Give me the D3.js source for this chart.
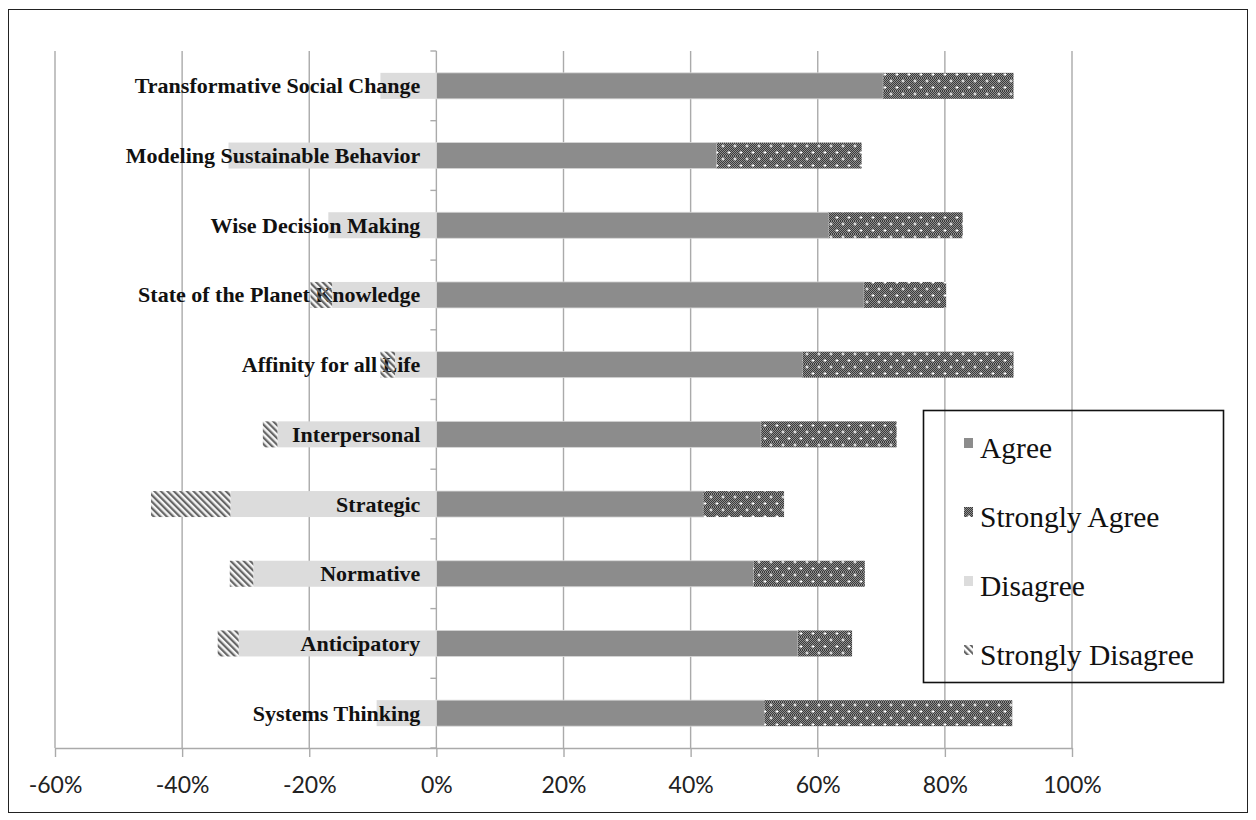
<!DOCTYPE html>
<html>
<head>
<meta charset="utf-8">
<script src="https://cdn.jsdelivr.net/npm/d3@7"></script>
<style>
  html, body { margin: 0; padding: 0; background: #fff; }
  svg { display: block; }
</style>
</head>
<body>
<svg id="chart" width="1256" height="820"></svg>
<script>
// ---- data (percent) ----
const categories = [
  "Transformative Social Change",
  "Modeling Sustainable Behavior",
  "Wise Decision Making",
  "State of the Planet Knowledge",
  "Affinity for all Life",
  "Interpersonal",
  "Strategic",
  "Normative",
  "Anticipatory",
  "Systems Thinking"
];
const agree          = [70.3, 44.1, 61.7, 67.3, 57.6, 51.1, 42.0, 49.9, 56.9, 51.6];
const stronglyAgree  = [20.5, 22.8, 21.1, 12.9, 33.2, 21.3, 12.7, 17.5,  8.5, 39.0];
const disagree       = [ 8.8, 32.7, 17.0, 16.4,  6.5, 25.0, 32.4, 28.8, 31.1,  9.4];
const stronglyDisagree = [0, 0, 0, 3.4, 2.3, 2.3, 12.5, 3.7, 3.3, 0];
const tickValues = [-60, -40, -20, 0, 20, 40, 60, 80, 100];
const tickLabels = ["-60%", "-40%", "-20%", "0%", "20%", "40%", "60%", "80%", "100%"];
const legendLabels = ["Agree", "Strongly Agree", "Disagree", "Strongly Disagree"];

// ---- layout ----
const svg = d3.select("#chart");
const W = 1256, H = 820;
const plot = { left: 55, right: 1072, top: 51, bottom: 748 };

const x = d3.scaleLinear().domain([-60, 100]).range([plot.left, plot.right]);
const y = d3.scaleBand().domain(categories).range([plot.top, plot.bottom])
  .paddingInner(0.627).paddingOuter(0.3135);

// ---- patterns ----
const defs = svg.append("defs");
// Strongly agree: dark checker with white dots
const pSA = defs.append("pattern").attr("id", "pSA").attr("patternUnits", "userSpaceOnUse")
  .attr("width", 12).attr("height", 13);
pSA.append("rect").attr("width", 12).attr("height", 13).attr("fill", "#8e8e8e");
for (let i = 0; i < 12; i++) {
  for (let j = 0; j < 13; j++) {
    if ((i + j) % 2 === 0) pSA.append("rect").attr("x", i).attr("y", j).attr("width", 1).attr("height", 1).attr("fill", "#3a3a3a");
  }
}
[[3, 3], [9, 9.5]].forEach(([cx, cy]) => {
  pSA.append("rect").attr("x", cx - 1.5).attr("y", cy - 0.5).attr("width", 3).attr("height", 1).attr("fill", "#fff");
  pSA.append("rect").attr("x", cx - 0.5).attr("y", cy - 1.5).attr("width", 1).attr("height", 3).attr("fill", "#fff");
});
// Strongly disagree: diagonal "\" stripes, transparent background
const pSD = defs.append("pattern").attr("id", "pSD").attr("patternUnits", "userSpaceOnUse")
  .attr("width", 4.6).attr("height", 10).attr("patternTransform", "rotate(-45)");
pSD.append("rect").attr("x", 0).attr("y", 0).attr("width", 2.2).attr("height", 10).attr("fill", "#666");

// ---- outer border ----
svg.append("rect").attr("x", 8.5).attr("y", 9.5).attr("width", W - 17).attr("height", H - 17)
  .attr("fill", "none").attr("stroke", "#222").attr("stroke-width", 1);

// ---- gridlines ----
svg.append("g").selectAll("line").data(tickValues).join("line")
  .attr("x1", d => x(d)).attr("x2", d => x(d))
  .attr("y1", plot.top).attr("y2", plot.bottom)
  .attr("stroke", "#aaaaaa").attr("stroke-width", 1.4);

// ---- bars ----
const bars = svg.append("g");
// Agree
bars.selectAll(".ag").data(categories).join("rect")
  .attr("x", x(0)).attr("y", d => y(d))
  .attr("width", (d, i) => x(agree[i]) - x(0)).attr("height", y.bandwidth())
  .attr("fill", "#8c8c8c").attr("stroke", "#d6d6d6").attr("stroke-width", 0.8);
// Strongly agree
bars.selectAll(".sa").data(categories).join("rect")
  .attr("x", (d, i) => x(agree[i])).attr("y", d => y(d))
  .attr("width", (d, i) => x(agree[i] + stronglyAgree[i]) - x(agree[i])).attr("height", y.bandwidth())
  .attr("fill", "url(#pSA)");
// Disagree
bars.selectAll(".di").data(categories).join("rect")
  .attr("x", (d, i) => x(-disagree[i])).attr("y", d => y(d))
  .attr("width", (d, i) => x(0) - x(-disagree[i])).attr("height", y.bandwidth())
  .attr("fill", "#dcdcdc");
// Strongly disagree background (hides gridlines)
bars.selectAll(".sdbg").data(categories).join("rect")
  .attr("x", (d, i) => x(-disagree[i] - stronglyDisagree[i])).attr("y", d => y(d))
  .attr("width", (d, i) => x(-disagree[i]) - x(-disagree[i] - stronglyDisagree[i])).attr("height", y.bandwidth())
  .attr("fill", "#f4f4f4");

// ---- y axis ticks at 0 ----
const bounds = categories.map(c => y(c) - (y.step() - y.bandwidth()) / 2).concat([plot.bottom]);
svg.append("g").selectAll("line").data(bounds).join("line")
  .attr("x1", x(0) - 6).attr("x2", x(0)).attr("y1", d => d).attr("y2", d => d)
  .attr("stroke", "#aaaaaa").attr("stroke-width", 1.4);

// ---- category labels ----
svg.append("g").selectAll("text").data(categories).join("text")
  .attr("x", x(0) - 16).attr("y", d => y(d) + y.bandwidth() / 2 + 7.5)
  .attr("text-anchor", "end")
  .attr("font-family", "'Liberation Serif', 'Times New Roman', serif")
  .attr("font-weight", "bold").attr("font-size", 22).attr("fill", "#111")
  .text(d => d);

// Strongly disagree stripes (over labels)
svg.append("g").selectAll("rect").data(categories).join("rect")
  .attr("x", (d, i) => x(-disagree[i] - stronglyDisagree[i])).attr("y", d => y(d))
  .attr("width", (d, i) => x(-disagree[i]) - x(-disagree[i] - stronglyDisagree[i])).attr("height", y.bandwidth())
  .attr("fill", "url(#pSD)");

// ---- x axis ----
const xAxis = d3.axisBottom(x).tickValues(tickValues).tickSize(9).tickSizeOuter(0)
  .tickFormat((d, i) => tickLabels[i]);
const gx = svg.append("g").attr("transform", `translate(0,${plot.bottom})`).call(xAxis);
gx.select(".domain").attr("stroke", "#aaaaaa").attr("stroke-width", 1.4);
gx.selectAll(".tick line").attr("stroke", "#aaaaaa").attr("stroke-width", 1.4);
gx.selectAll(".tick text").attr("font-family", "Lato, 'Open Sans', sans-serif")
  .attr("font-size", 23).attr("fill", "#222").attr("dy", null).attr("y", 45);

// ---- legend ----
const lg = svg.append("g");
lg.append("rect").attr("x", 923.5).attr("y", 410.5).attr("width", 300).attr("height", 272)
  .attr("fill", "none").attr("stroke", "#111").attr("stroke-width", 1.6);
const swFills = ["#8c8c8c", "url(#pSA)", "#dcdcdc", "url(#pSD)"];
const item = lg.selectAll("g.item").data(legendLabels).join("g").attr("class", "item")
  .attr("transform", (d, i) => `translate(0,${438 + i * 69})`);
item.append("rect").attr("x", 964).attr("y", 0).attr("width", 9).attr("height", 10)
  .attr("fill", (d, i) => swFills[i]);
item.append("text").attr("x", 980).attr("y", 20)
  .attr("font-family", "'Liberation Serif', 'Times New Roman', serif")
  .attr("font-size", 29.5).attr("fill", "#111").text(d => d);
</script>
</body>
</html>
